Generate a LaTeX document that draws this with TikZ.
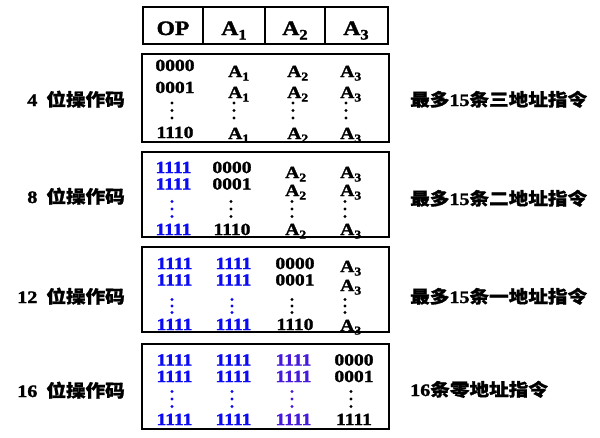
\documentclass[tikz,border=0pt]{standalone}
\usepackage{fontspec}
\setmainfont{Liberation Serif}[FakeStretch=1.15, BoldFeatures={FakeBold=1.6}]
\newfontfamily\cjk{Noto Sans CJK SC}[FakeStretch=1.12, BoldFeatures={FakeBold=1.2}]
\definecolor{bl}{RGB}{10,10,245}
\definecolor{vi}{RGB}{70,25,220}
\newcommand{\Ax}[1]{A\raisebox{-3.5pt}{\fontsize{12}{12}\selectfont #1}}
\newcommand{\Hx}[1]{A\raisebox{-4.5pt}{\fontsize{14.5}{14.5}\selectfont #1}}
\newcommand{\vd}[4]{\fill[#4] (#1,#2-#3) circle (1.7pt) (#1,#2) circle (1.7pt) (#1,#2+#3) circle (1.7pt);}
\begin{document}
\begin{tikzpicture}[x=1pt,y=-1pt,
  box/.style={draw=black, line width=2pt, fill=white},
  num/.style={inner sep=0pt, anchor=base, font=\fontsize{17}{17}\selectfont\bfseries},
  av/.style={inner sep=0pt, anchor=base west, font=\fontsize{17}{17}\selectfont\bfseries},
  hd/.style={inner sep=0pt, anchor=base, font=\fontsize{20.5}{20.5}\selectfont\bfseries},
  labl/.style={inner sep=0pt, anchor=base east, font=\fontsize{17.5}{17.5}\selectfont\bfseries},
  labr/.style={inner sep=0pt, anchor=base west, font=\fontsize{17.5}{17.5}\selectfont\bfseries},
]
\useasboundingbox (0,0) rectangle (600,437);
% header
\draw[box] (143,7) rectangle (388,44);
\draw[line width=2pt] (203,7) -- (203,44) (265,7) -- (265,44) (325,7) -- (325,44);
\node[hd] (hop) at (173,35) {OP};
\node[hd] (ha1) at (234,35) {\Hx{1}};
\node[hd] (ha2) at (295,35) {\Hx{2}};
\node[hd] (ha3) at (356,35) {\Hx{3}};
% boxes
\draw[box] (142,54) rectangle (389,142);
\draw[box] (142,152) rectangle (389,237);
\draw[box] (142,247) rectangle (389,332);
\draw[box] (142,344) rectangle (389,429);
% box 1
\node[num] (a11) at (175,71) {0000};
\node[num] (a12) at (175,93) {0001};
\node[num] (a14) at (175,138) {1110};
\node[av] (a21) at (228,77) {\Ax{1}};
\node[av] (a22) at (228,98) {\Ax{1}};
\node[av] (a24) at (228,139) {\Ax{1}};
\node[av] (a31) at (287,77) {\Ax{2}};
\node[av] (a32) at (287,98) {\Ax{2}};
\node[av] (a34) at (287,139) {\Ax{2}};
\node[av] (a41) at (340,77) {\Ax{3}};
\node[av] (a42) at (340,98) {\Ax{3}};
\node[av] (a44) at (340,139) {\Ax{3}};
\vd{172}{110.5}{7.5}{black}
\vd{234}{110.5}{7.5}{black}
\vd{293}{110.5}{7.5}{black}
\vd{346}{110.5}{7.5}{black}
% box 2
\node[num,text=bl] (b11) at (173.5,173) {1111};
\node[num,text=bl] (b12) at (173.5,189.5) {1111};
\node[num,text=bl] (b14) at (173.5,235) {1111};
\node[num] (b21) at (232,173) {0000};
\node[num] (b22) at (232,189.5) {0001};
\node[num] (b24) at (232,235) {1110};
\node[av] (b31) at (285,178) {\Ax{2}};
\node[av] (b32) at (285,196) {\Ax{2}};
\node[av] (b34) at (285,235) {\Ax{2}};
\node[av] (b41) at (340,178) {\Ax{3}};
\node[av] (b42) at (340,196) {\Ax{3}};
\node[av] (b44) at (340,235) {\Ax{3}};
\vd{172}{209}{7.5}{bl}
\vd{231}{209}{7.5}{black}
\vd{292}{209}{7.5}{black}
\vd{345}{209}{7.5}{black}
% box 3
\node[num,text=bl] (c11) at (174.5,269) {1111};
\node[num,text=bl] (c12) at (174.5,285.5) {1111};
\node[num,text=bl] (c14) at (174.5,330) {1111};
\node[num,text=bl] (c21) at (233.5,269) {1111};
\node[num,text=bl] (c22) at (233.5,285.5) {1111};
\node[num,text=bl] (c24) at (233.5,330) {1111};
\node[num] (c31) at (295,269) {0000};
\node[num] (c32) at (295,285.5) {0001};
\node[num] (c34) at (295,330) {1110};
\node[av] (c41) at (340,272) {\Ax{3}};
\node[av] (c42) at (340,291) {\Ax{3}};
\node[av] (c44) at (340,331) {\Ax{3}};
\vd{172}{306}{6.5}{bl}
\vd{232}{306}{6.5}{bl}
\vd{292}{306}{6.5}{black}
\vd{345}{306}{6.5}{black}
% box 4
\node[num,text=bl] (d11) at (174.5,365.5) {1111};
\node[num,text=bl] (d12) at (174.5,382) {1111};
\node[num,text=bl] (d14) at (174.5,425) {1111};
\node[num,text=bl] (d21) at (233.5,365.5) {1111};
\node[num,text=bl] (d22) at (233.5,382) {1111};
\node[num,text=bl] (d24) at (233.5,425) {1111};
\node[num,text=vi] (d31) at (293.5,365.5) {1111};
\node[num,text=vi] (d32) at (293.5,382) {1111};
\node[num,text=vi] (d34) at (293.5,425) {1111};
\node[num] (d41) at (354,365.5) {0000};
\node[num] (d42) at (354,382) {0001};
\node[num] (d44) at (354,425) {1111};
\vd{172}{399}{7.5}{bl}
\vd{232}{399}{7.5}{bl}
\vd{292}{399}{7.5}{vi}
\vd{351}{399}{7.5}{black}
% left labels
\node[labl] (l1) at (125,106) {4\hspace{9pt}{\cjk 位操作码}};
\node[labl] (l2) at (125,203) {8\hspace{9pt}{\cjk 位操作码}};
\node[labl] (l3) at (125,303) {12\hspace{9pt}{\cjk 位操作码}};
\node[labl] (l4) at (125,397) {16\hspace{9pt}{\cjk 位操作码}};
% right labels
\node[labr] (r1) at (410,106) {{\cjk 最多}15{\cjk 条三地址指令}};
\node[labr] (r2) at (410,205) {{\cjk 最多}15{\cjk 条二地址指令}};
\node[labr] (r3) at (410,303) {{\cjk 最多}15{\cjk 条一地址指令}};
\node[labr] (r4) at (410,396) {16{\cjk 条零地址指令}};
\end{tikzpicture}
\end{document}
